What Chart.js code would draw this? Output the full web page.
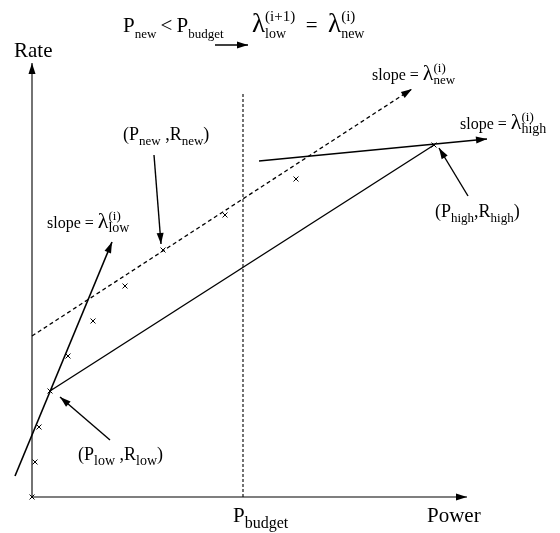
<!DOCTYPE html>
<html>
<head>
<meta charset="utf-8">
<script src="https://cdn.jsdelivr.net/npm/chart.js@4"></script>
<style>
  body { margin: 0; background: #fff; }
  #wrap { width: 560px; height: 533px; position: relative; }
</style>
</head>
<body>
<div id="wrap"><canvas id="myChart"></canvas></div>
<script>
// operating points sampled on the rate/power curve
const samplePower = [0, 3, 7, 18, 36, 61, 93, 131, 193, 264, 402];
const sampleRate  = [0, 35, 70, 106, 141, 176, 211, 247, 282, 318, 352];

// lines: [x0, y0, x1, y1]
const axisX      = [0, 0, 435, 0];
const axisY      = [0, 0, 0, 434];
const tangentLow  = [-17, 21, 80, 255];
const tangentHigh = [227, 336, 455, 358];
const tangentNew  = [0, 161, 380, 408];
const chord       = [18, 106, 402, 352];
const budgetLine  = [211, 0, 211, 404];

// pointer arrows
const ptrNew  = [122, 342, 129, 253];
const ptrLow  = [78, 57, 28, 100];
const ptrHigh = [436, 301, 407, 349];
const ptrRule = [183, 452, 216, 452];

// labels: anchor (power, rate) + pieces [text, subscript, superscript]
const labelPos = [
  [91, 465], [220, 465], [-18, 440], [395, -25], [201, -25],
  [340, 417], [428, 368], [15, 269],
  [91, 357], [46, 37], [403, 280]
];
const labelText = [
  [["P"], ["", "new"], ["\u2009<\u2009P"], ["", "budget"]],
  [["λ", "low", "(i+1)"], ["  =  "], ["λ", "new", "(i)"]],
  [["Rate"]],
  [["Power"]],
  [["P"], ["", "budget"]],
  [["slope = "], ["λ", "new", "(i)"]],
  [["slope = "], ["λ", "high", "(i)"]],
  [["slope = "], ["λ", "low", "(i)"]],
  [["(P"], ["", "new"], [" ,R"], ["", "new"], [")"]],
  [["(P"], ["", "low"], [" ,R"], ["", "low"], [")"]],
  [["(P"], ["", "high"], [",R"], ["", "high"], [")"]]
];
// main size, subscript size, superscript size
const labelSize = [21, 21, 21, 21, 21, 16, 16, 16, 18, 18, 18];
const labelSub  = [13, 14, 0, 0, 16, 13, 14, 14, 13, 14, 13];
const labelSup  = [0, 15, 0, 0, 0, 13, 13, 13, 0, 0, 0];

function seg(s) {
  return [{ x: s[0], y: s[1] }, { x: s[2], y: s[3] }];
}
function lineSet(s, width, dash) {
  return {
    data: seg(s), showLine: true, pointRadius: 0, borderColor: "#000",
    borderWidth: width, borderDash: dash || [], fill: false
  };
}

const arrowSegs = [axisX, axisY, tangentLow, tangentHigh, tangentNew, ptrNew, ptrLow, ptrHigh, ptrRule];
const FONT = "px 'Liberation Serif', serif";

const decor = {
  id: "decor",
  afterDatasetsDraw(chart) {
    const ctx = chart.ctx, xs = chart.scales.x, ys = chart.scales.y;
    ctx.save();
    ctx.fillStyle = "#000";
    ctx.strokeStyle = "#000";
    // pointer shafts
    [ptrNew, ptrLow, ptrHigh, ptrRule].forEach(s => {
      ctx.beginPath();
      ctx.lineWidth = 1.4;
      ctx.moveTo(xs.getPixelForValue(s[0]), ys.getPixelForValue(s[1]));
      ctx.lineTo(xs.getPixelForValue(s[2]), ys.getPixelForValue(s[3]));
      ctx.stroke();
    });
    // arrowheads
    arrowSegs.forEach(s => {
      const x0 = xs.getPixelForValue(s[0]), y0 = ys.getPixelForValue(s[1]);
      const x1 = xs.getPixelForValue(s[2]), y1 = ys.getPixelForValue(s[3]);
      const a = Math.atan2(y1 - y0, x1 - x0);
      const len = 11, hw = 3.5;
      ctx.beginPath();
      ctx.moveTo(x1, y1);
      ctx.lineTo(x1 - len * Math.cos(a) + hw * Math.sin(a), y1 - len * Math.sin(a) - hw * Math.cos(a));
      ctx.lineTo(x1 - len * Math.cos(a) - hw * Math.sin(a), y1 - len * Math.sin(a) + hw * Math.cos(a));
      ctx.closePath();
      ctx.fill();
    });
    // labels with sub/superscripts
    ctx.textBaseline = "alphabetic";
    labelText.forEach((pieces, i) => {
      const size = labelSize[i];
      let x = xs.getPixelForValue(labelPos[i][0]);
      const y = ys.getPixelForValue(labelPos[i][1]);
      pieces.forEach(p => {
        ctx.font = (p[0] === "λ" ? size + 6 : size) + FONT;
        ctx.fillText(p[0], x, y);
        x += ctx.measureText(p[0]).width;
        let w = 0;
        if (p[1]) {
          ctx.font = labelSub[i] + FONT;
          ctx.fillText(p[1], x, y + size * 0.28);
          w = Math.max(w, ctx.measureText(p[1]).width);
        }
        if (p[2]) {
          ctx.font = labelSup[i] + FONT;
          ctx.fillText(p[2], x, y - size * 0.52);
          w = Math.max(w, ctx.measureText(p[2]).width);
        }
        x += w;
      });
    });
    ctx.restore();
  }
};

let myChart;
function buildChart() {
  myChart = new Chart(document.getElementById("myChart"), {
    type: "scatter",
    data: {
      datasets: [
        {
          data: samplePower.map((p, i) => ({ x: p, y: sampleRate[i] })),
          pointStyle: "crossRot", pointRadius: 3.5, borderColor: "#000",
          borderWidth: 1, showLine: false
        },
        lineSet(axisX, 1.1),
        lineSet(axisY, 1.1),
        lineSet(tangentLow, 1.6),
        lineSet(tangentHigh, 1.6),
        lineSet(chord, 1.4),
        lineSet(tangentNew, 1.3, [4, 3]),
        lineSet(budgetLine, 1.1, [3, 2])
      ]
    },
    options: {
      responsive: true,
      maintainAspectRatio: false,
      animation: false,
      layout: { padding: 0, autoPadding: false },
      plugins: { legend: { display: false }, tooltip: { enabled: false } },
      scales: {
        x: { type: "linear", min: -32, max: 528, display: false },
        y: { type: "linear", min: -36, max: 497, display: false }
      }
    },
    plugins: [decor]
  });
}
buildChart();
</script>
</body>
</html>
